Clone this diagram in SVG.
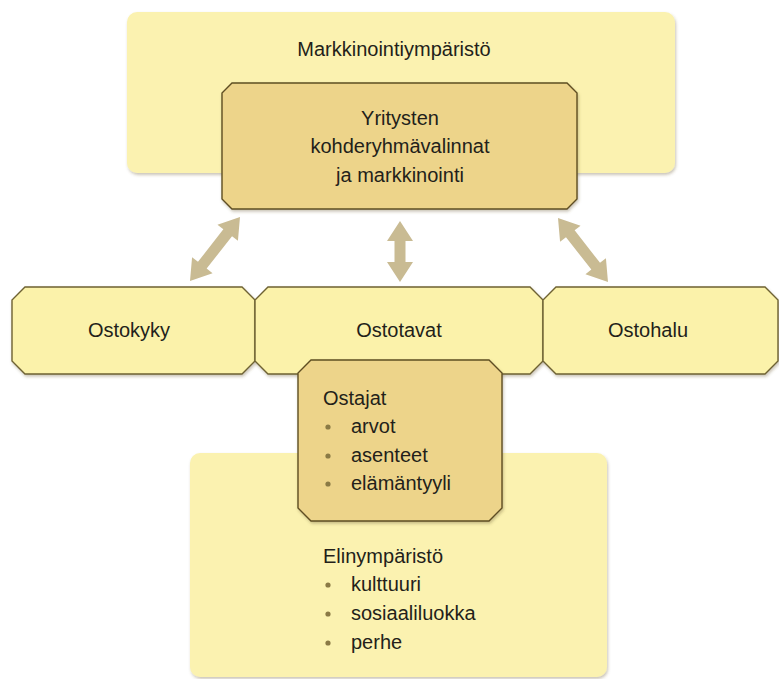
<svg xmlns="http://www.w3.org/2000/svg" width="779" height="679" viewBox="0 0 779 679">
<defs>
<filter id="sh" x="-5%" y="-5%" width="110%" height="115%">
<feDropShadow dx="1" dy="2" stdDeviation="1.5" flood-color="#6b5a30" flood-opacity="0.35"/>
</filter>
<style>
.light{fill:#FBF2B0;}
.lightb{fill:#FBF2AA;stroke:#6E6233;stroke-width:1.4;}
.dark{fill:#EDD48A;stroke:#5E4E22;stroke-width:1.4;}
.t{font-family:"Liberation Sans",Arial,sans-serif;font-size:20px;fill:#231F1A;}
.c{text-anchor:middle;}
.arr{fill:#C9BB93;}
.bul{fill:#8A7A45;}
</style>
</defs>
<rect width="779" height="679" fill="#FFFFFF"/>

<g id="markkinointiymparisto">
<rect class="light" x="127" y="12" width="548" height="161" rx="10" filter="url(#sh)"/>
<text class="t c" x="394" y="56">Markkinointiympäristö</text>
</g>

<g id="yritysten">
<polygon class="dark" points="232,83 567,83 577,93 577,199 567,209 232,209 222,199 222,93" filter="url(#sh)"/>
<text class="t c" x="400" y="125">Yritysten</text>
<text class="t c" x="400" y="153">kohderyhmävalinnat</text>
<text class="t c" x="400" y="182">ja markkinointi</text>
</g>

<g id="connectors">
<polygon class="arr" transform="translate(240,217) rotate(38)" points="0,0 13,20 5.5,20 5.5,61.2 13,61.2 0,81.2 -13,61.2 -5.5,61.2 -5.5,20 -13,20"/>
<polygon class="arr" transform="translate(400,221)" points="0,0 13,20 5.5,20 5.5,41 13,41 0,61 -13,41 -5.5,41 -5.5,20 -13,20"/>
<polygon class="arr" transform="translate(558,218) rotate(-38)" points="0,0 13,20 5.5,20 5.5,61.2 13,61.2 0,81.2 -13,61.2 -5.5,61.2 -5.5,20 -13,20"/>
</g>

<g id="ostokyky">
<polygon class="lightb" points="25,287 242,287 255,300 255,361 242,374 25,374 12,361 12,300" filter="url(#sh)"/>
<text class="t c" x="129" y="337">Ostokyky</text>
</g>

<g id="ostotavat">
<polygon class="lightb" points="268,287 530,287 543,300 543,361 530,374 268,374 255,361 255,300" filter="url(#sh)"/>
<text class="t c" x="399" y="337">Ostotavat</text>
</g>

<g id="ostohalu">
<polygon class="lightb" points="556,287 765,287 778,300 778,361 765,374 556,374 543,361 543,300" filter="url(#sh)"/>
<text class="t c" x="648" y="337">Ostohalu</text>
</g>

<g id="elinymparisto">
<rect class="light" x="190" y="453" width="417" height="224" rx="10" filter="url(#sh)"/>
<text class="t" x="323" y="563">Elinympäristö</text>
<circle class="bul" cx="328" cy="585" r="2.6"/>
<text class="t" x="351" y="591">kulttuuri</text>
<circle class="bul" cx="328" cy="614" r="2.6"/>
<text class="t" x="351" y="620">sosiaaliluokka</text>
<circle class="bul" cx="328" cy="643" r="2.6"/>
<text class="t" x="351" y="649">perhe</text>
</g>

<g id="ostajat">
<polygon class="dark" points="311,360 489,360 502,373 502,508 489,521 311,521 298,508 298,373" filter="url(#sh)"/>
<text class="t" x="323" y="405">Ostajat</text>
<circle class="bul" cx="328" cy="427" r="2.6"/>
<text class="t" x="351" y="433">arvot</text>
<circle class="bul" cx="328" cy="456" r="2.6"/>
<text class="t" x="351" y="462">asenteet</text>
<circle class="bul" cx="328" cy="484" r="2.6"/>
<text class="t" x="351" y="490">elämäntyyli</text>
</g>
</svg>
